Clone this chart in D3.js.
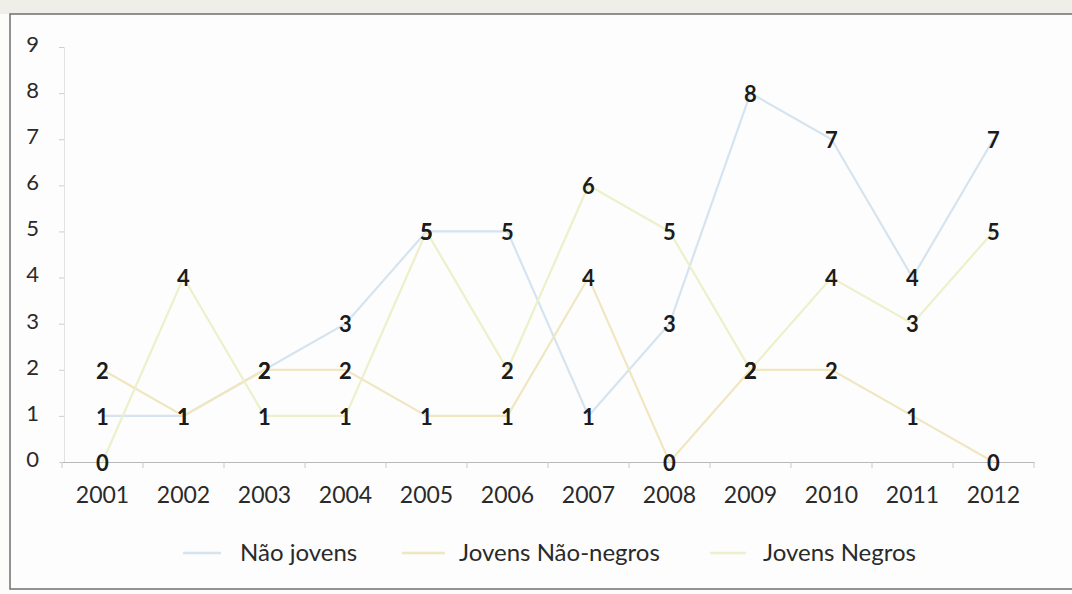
<!DOCTYPE html>
<html>
<head>
<meta charset="utf-8">
<script src="https://cdn.jsdelivr.net/npm/d3@7"></script>
<style>
  html, body { margin: 0; padding: 0; background: #fcfcfb; }
  svg { display: block; }
  text { font-family: Lato, "Open Sans", "DejaVu Sans", sans-serif; }
</style>
</head>
<body>
<svg id="chart" width="1072" height="594"></svg>
<script>
// ---- data ----
const years = ["2001","2002","2003","2004","2005","2006","2007","2008","2009","2010","2011","2012"];
const naoJovens       = [1, 1, 2, 3, 5, 5, 1, 3, 8, 7, 4, 7];
const jovensNaoNegros = [2, 1, 2, 2, 1, 1, 4, 0, 2, 2, 1, 0];
const jovensNegros    = [0, 4, 1, 1, 5, 2, 6, 5, 2, 4, 3, 5];
const seriesNames = ["Não jovens", "Jovens Não-negros", "Jovens Negros"];
const yTicks = [0, 1, 2, 3, 4, 5, 6, 7, 8, 9];

const seriesData = [naoJovens, jovensNaoNegros, jovensNegros];
const colors = ["#d6e4f0", "#f0e7c0", "#edf0ca"];

const svg = d3.select("#chart");

// paper / frame
svg.append("rect").attr("x", 0).attr("y", 0).attr("width", 1072).attr("height", 14).attr("fill", "#efeee8");
svg.append("rect").attr("x", 10).attr("y", 14).attr("width", 1070).attr("height", 575)
  .attr("fill", "#fdfdfd").attr("stroke", "#6f6f6f").attr("stroke-width", 1.5);

// scales
const x = d3.scaleBand().domain(years).range([62, 1034]).paddingInner(0).paddingOuter(0);
const cx = d => x(d) + x.bandwidth() / 2;
const y = d3.scaleLinear().domain([0, 9]).range([462, 47]);

// y axis
const yAxis = svg.append("g").attr("transform", "translate(64,0)")
  .call(d3.axisLeft(y).tickValues(yTicks).tickFormat(d3.format("d")).tickSize(5).tickPadding(20));
yAxis.select(".domain").attr("stroke", "#e2e2e2");
yAxis.selectAll(".tick line").attr("stroke", "#cfcfcf");
yAxis.selectAll(".tick text").attr("font-size", 22).attr("fill", "#2a2a2a").attr("dy", "0.2em");

// x axis
const xAxis = svg.append("g").attr("transform", "translate(0,462)")
  .call(d3.axisBottom(x).tickSize(0).tickPadding(25));
xAxis.select(".domain").attr("stroke", "#b9b9b9").attr("stroke-width", 1.2);
xAxis.selectAll(".tick text").attr("font-size", 23).attr("fill", "#2a2a2a");
// category boundary ticks
svg.append("g").selectAll("line").data(years.concat(["end"])).join("line")
  .attr("x1", (d, i) => i < years.length ? x(d) : x(years[years.length - 1]) + x.bandwidth())
  .attr("x2", (d, i) => i < years.length ? x(d) : x(years[years.length - 1]) + x.bandwidth())
  .attr("y1", 462).attr("y2", 468).attr("stroke", "#c8c8c8");

// lines
const line = d3.line().x((d, i) => cx(years[i])).y(d => y(d));
svg.append("g").selectAll("path").data(seriesData).join("path")
  .attr("d", d => line(d))
  .attr("fill", "none")
  .attr("stroke", (d, i) => colors[i])
  .attr("stroke-width", 2.2);

// data labels
const labels = [];
seriesData.forEach((s, si) => s.forEach((v, i) => labels.push({ year: years[i], v, si })));
svg.append("g").selectAll("text").data(labels).join("text")
  .attr("x", d => cx(d.year))
  .attr("y", d => y(d.v))
  .attr("dy", "0.4em")
  .attr("text-anchor", "middle")
  .attr("font-size", 22)
  .attr("font-weight", "bold")
  .attr("fill", "#1c1c1c")
  .text(d => d.v);

// legend
const legendPos = [
  { lx1: 183, lx2: 221, tx: 240 },
  { lx1: 402, lx2: 445, tx: 459 },
  { lx1: 710, lx2: 746, tx: 763 }
];
const lg = svg.append("g");
seriesNames.forEach((name, i) => {
  lg.append("line").attr("x1", legendPos[i].lx1).attr("x2", legendPos[i].lx2)
    .attr("y1", 553).attr("y2", 553).attr("stroke", colors[i]).attr("stroke-width", 2.5);
  lg.append("text").attr("x", legendPos[i].tx).attr("y", 553).attr("dy", "0.35em")
    .attr("font-size", 24).attr("fill", "#2a2a2a").text(name);
});
</script>
</body>
</html>
